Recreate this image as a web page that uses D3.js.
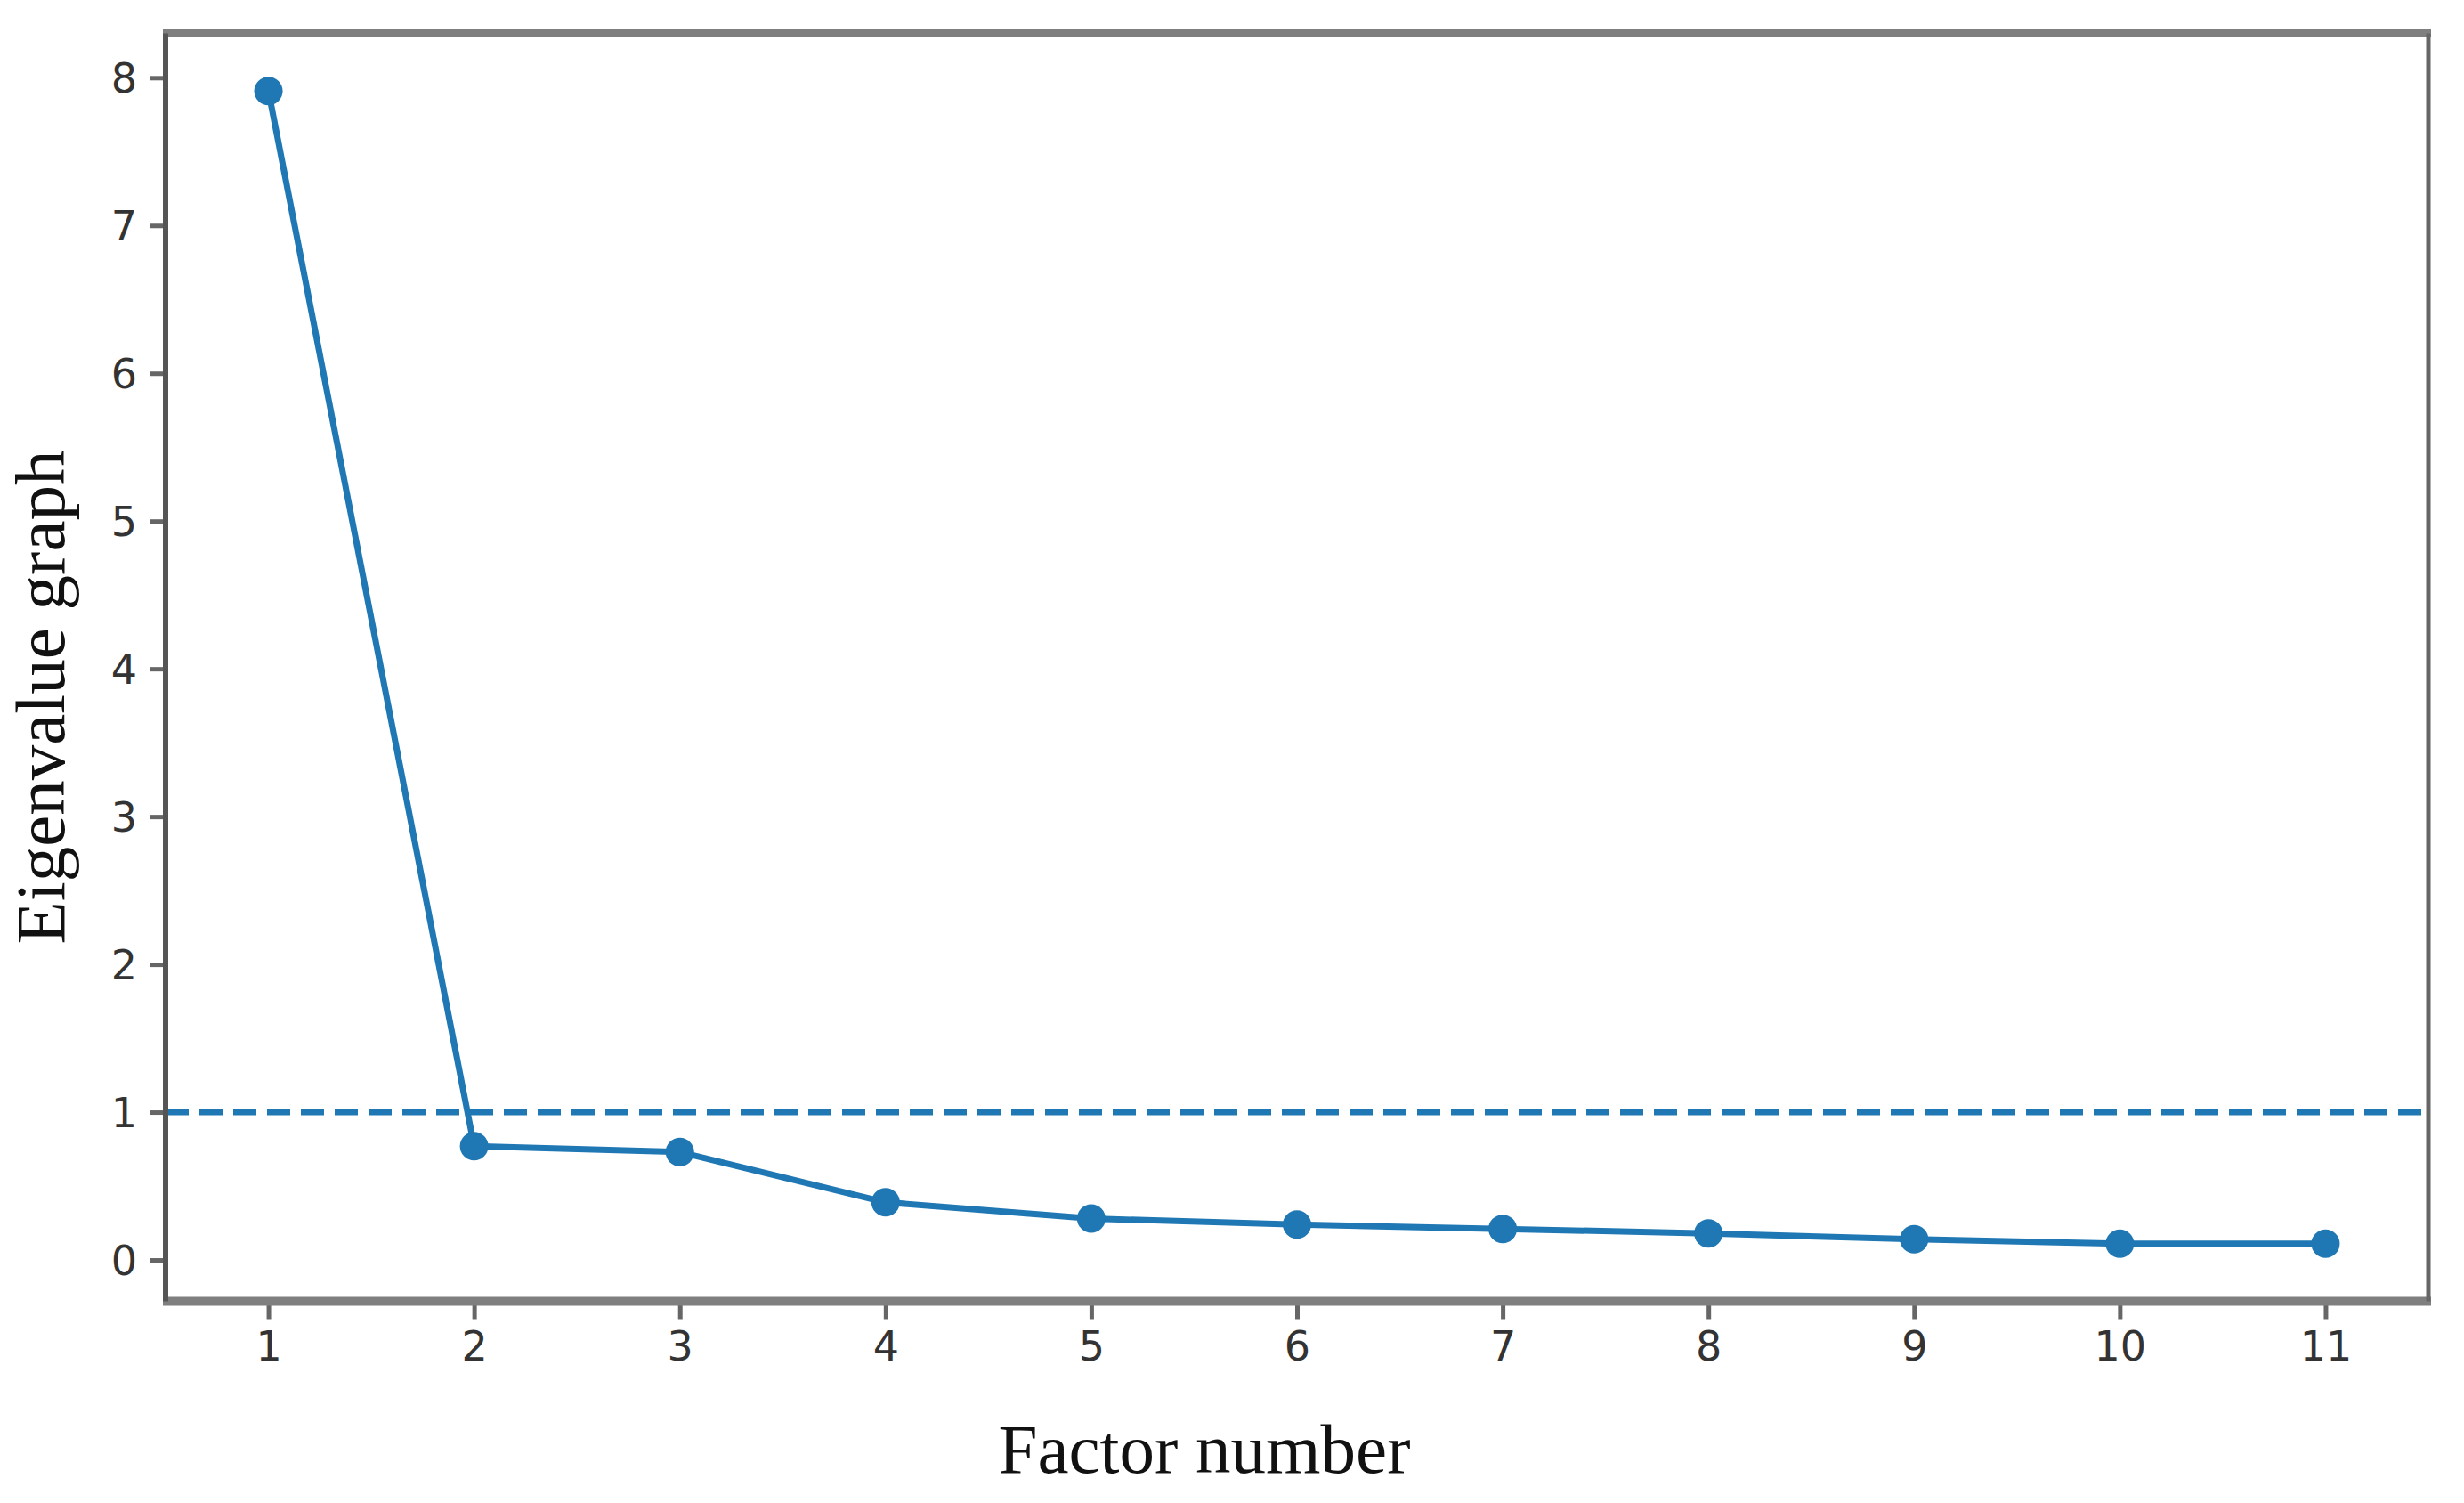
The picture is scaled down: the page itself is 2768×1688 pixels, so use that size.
<!DOCTYPE html>
<html lang="en">
  <head>
    <meta charset="utf-8">
    <title>Eigenvalue graph</title>
    <script src="https://d3js.org/d3.v7.min.js"></script>
    <style>
      body { margin: 0; background: #fff; }

      .tick text {
        font-family: "DejaVu Sans", sans-serif;
        font-size: 46px;
        fill: #333;
      }

      .axisTitle {
        font-family: "Liberation Serif", serif;
        font-size: 79px;
        fill: #111;
      }
    </style>
  </head>
  <body>
    <div id="chart"></div>
    <script>

      // scree plot values
      const factors = [1, 2, 3, 4, 5, 6, 7, 8, 9, 10, 11];
      const eigenvalues = [7.91, 0.77, 0.73, 0.39, 0.28, 0.24, 0.21, 0.18, 0.14, 0.11, 0.11];
      const yTicks = [0, 1, 2, 3, 4, 5, 6, 7, 8];
      const threshold = 1;

      const w = 2768;
      const h = 1688;
      // plot frame edges (window.top is taken, hence the prefix)
      const plotLeft = 186, plotRight = 2728, plotTop = 37.5, plotBottom = 1461.5;
      const blue = "#1f77b4";

      const svg = d3.select("#chart")
                    .append("svg")
                    .attr("width", w)
                    .attr("height", h);

      // matplotlib style 5% margins around the data
      const xExt = d3.extent(factors);
      const yExt = d3.extent(eigenvalues);
      const xPad = (xExt[1] - xExt[0]) * 0.05;
      const yPad = (yExt[1] - yExt[0]) * 0.05;

      const x = d3.scaleLinear()
                  .domain([xExt[0] - xPad, xExt[1] + xPad])
                  .range([plotLeft, plotRight]);

      const y = d3.scaleLinear()
                  .domain([yExt[0] - yPad, yExt[1] + yPad])
                  .range([plotBottom, plotTop]);

      // axes
      const xAxis = svg.append("g")
         .attr("transform", `translate(0,${plotBottom})`)
         .call(d3.axisBottom(x).tickValues(factors).tickFormat(d3.format("d"))
                 .tickSize(20).tickPadding(12));

      const yAxis = svg.append("g")
         .attr("transform", `translate(${plotLeft},0)`)
         .call(d3.axisLeft(y).tickValues(yTicks).tickFormat(d3.format("d"))
                 .tickSize(18).tickPadding(14));

      svg.selectAll(".domain").remove();
      svg.selectAll(".tick line")
         .attr("stroke", "#666")
         .attr("stroke-width", 5);
      xAxis.selectAll(".tick text").attr("dy", "0.74em");
      yAxis.selectAll(".tick text").attr("dy", "0.36em");

      // threshold line at eigenvalue 1
      svg.append("line")
         .attr("x1", plotLeft)
         .attr("x2", plotRight)
         .attr("y1", y(threshold))
         .attr("y2", y(threshold))
         .attr("stroke", blue)
         .attr("stroke-width", 7)
         .attr("stroke-dasharray", "26 12");

      // the scree line
      const line = d3.line()
                     .x((d, i) => x(factors[i]))
                     .y(d => y(d));

      svg.append("path")
         .datum(eigenvalues)
         .attr("fill", "none")
         .attr("stroke", blue)
         .attr("stroke-width", 7)
         .attr("stroke-linejoin", "round")
         .attr("d", line);

      svg.selectAll(".dot")
         .data(eigenvalues)
         .enter()
         .append("circle")
         .attr("class", "dot")
         .attr("cx", (d, i) => x(factors[i]))
         .attr("cy", d => y(d))
         .attr("r", 16)
         .attr("fill", blue);

      // frame: top/bottom look thicker and lighter than the sides
      svg.append("line")
         .attr("x1", plotLeft - 3).attr("x2", plotRight + 3)
         .attr("y1", plotTop).attr("y2", plotTop)
         .attr("stroke", "#7f7f7f").attr("stroke-width", 9);
      svg.append("line")
         .attr("x1", plotLeft - 3).attr("x2", plotRight + 3)
         .attr("y1", plotBottom).attr("y2", plotBottom)
         .attr("stroke", "#7f7f7f").attr("stroke-width", 10);
      svg.append("line")
         .attr("x1", plotLeft).attr("x2", plotLeft)
         .attr("y1", plotTop).attr("y2", plotBottom)
         .attr("stroke", "#555").attr("stroke-width", 6);
      svg.append("line")
         .attr("x1", plotRight).attr("x2", plotRight)
         .attr("y1", plotTop).attr("y2", plotBottom)
         .attr("stroke", "#666").attr("stroke-width", 5);

      // axis titles
      svg.append("text")
         .attr("class", "axisTitle")
         .attr("x", 1353)
         .attr("y", 1654)
         .attr("text-anchor", "middle")
         .text("Factor number");

      svg.append("text")
         .attr("class", "axisTitle")
         .attr("transform", "translate(72,783) rotate(-90)")
         .attr("text-anchor", "middle")
         .text("Eigenvalue graph");

    </script>
  </body>
</html>
